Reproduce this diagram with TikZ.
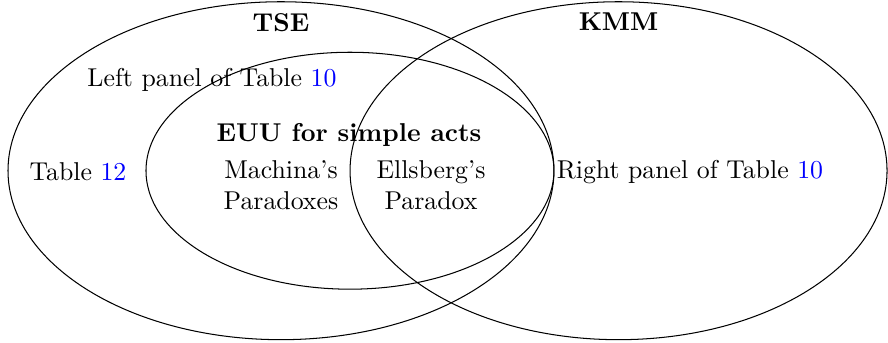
\documentclass[tikz,border=0pt]{standalone}
\usepackage{tikz}
\usetikzlibrary{positioning,shapes.geometric}
\usepackage{xcolor}

\begin{document}
\begin{tikzpicture}
	% 定义集合与文字的样式
	\tikzstyle{setshape} = [ellipse, draw=black, inner sep=0pt]	% 定义集合椭圆
	\tikzstyle{setname} = [font=\bfseries, text centered]	% 定义集合名称
	\tikzstyle{member} = [align=center, text centered]	% 定义集合元素
	\useasboundingbox (0,0) rectangle (12.098,4.673);
	\node (tse) [setshape, minimum width=7.438cm, minimum height=4.604cm] at (3.828,2.347) {};
	\node (kmm) [setshape, minimum width=7.316cm, minimum height=4.604cm] at (8.427,2.347) {};
	\node (euu) [setshape, minimum width=5.558cm, minimum height=3.228cm] at (4.768,2.347) {};
	
	% 集合名称
	\node (tsename) [setname, below=0.04 of tse.north] {TSE};
	\node (kmmname) [setname, below=0.04 of kmm.north] {KMM};
	\node (euuname) [setname] at (4.755,2.834) {EUU for simple acts};
	
	% 集合元素
	\node (leftpanel) [member] at (2.888,3.583) {Left panel of Table \textcolor{blue}{10}};
	\node (table12) [member] at (1.063,2.33) {Table \textcolor{blue}{12}};
	\node (machina) [member] at (3.828,2.146) {Machina's\\Paradoxes};
	\node (ellsberg) [member] at (5.872,2.146) {Ellsberg's\\Paradox};
	\node (rightpanel) [member] at (9.4,2.33) {Right panel of Table \textcolor{blue}{10}};
\end{tikzpicture}
\end{document}
